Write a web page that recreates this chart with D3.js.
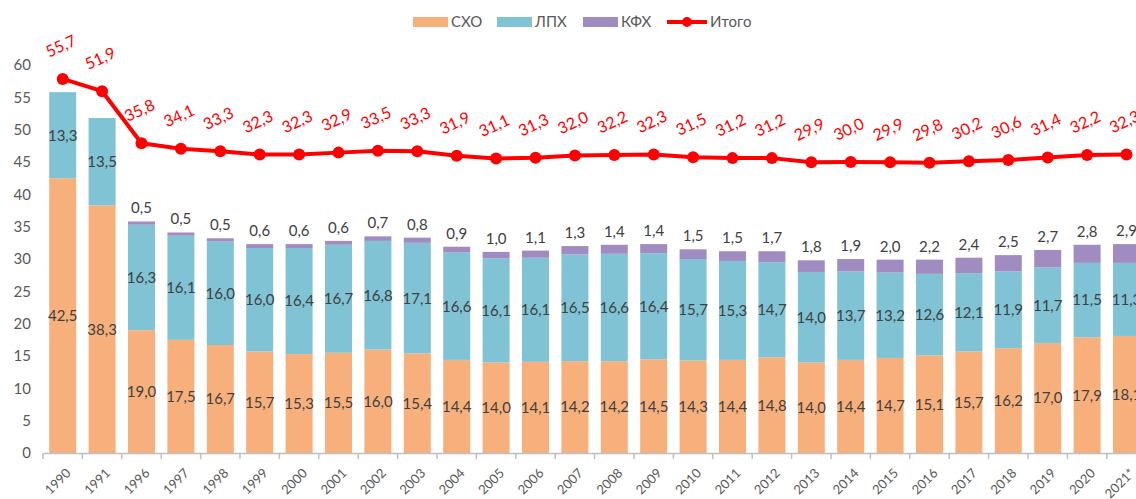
<!DOCTYPE html>
<html>
<head>
<meta charset="utf-8">
<script src="https://cdn.jsdelivr.net/npm/d3@7"></script>
<style>
  body { margin: 0; background: #fff; }
  svg { display: block; font-family: Lato, "Open Sans", sans-serif; }
</style>
</head>
<body>
<div id="chart"></div>
<script>
const years = ['1990', '1991', '1996', '1997', '1998', '1999', '2000', '2001', '2002', '2003', '2004',
  '2005', '2006', '2007', '2008', '2009', '2010', '2011', '2012', '2013', '2014', '2015', '2016',
  '2017', '2018', '2019', '2020', '2021*'];

const skho = [42.5, 38.3, 19.0, 17.5, 16.7, 15.7, 15.3, 15.5, 16.0, 15.4, 14.4, 14.0, 14.1, 14.2,
  14.2, 14.5, 14.3, 14.4, 14.8, 14.0, 14.4, 14.7, 15.1, 15.7, 16.2, 17.0, 17.9, 18.1];
const lph = [13.3, 13.5, 16.3, 16.1, 16.0, 16.0, 16.4, 16.7, 16.8, 17.1, 16.6, 16.1, 16.1, 16.5,
  16.6, 16.4, 15.7, 15.3, 14.7, 14.0, 13.7, 13.2, 12.6, 12.1, 11.9, 11.7, 11.5, 11.3];
const kfh = [null, null, 0.5, 0.5, 0.5, 0.6, 0.6, 0.6, 0.7, 0.8, 0.9, 1.0, 1.1, 1.3,
  1.4, 1.4, 1.5, 1.5, 1.7, 1.8, 1.9, 2.0, 2.2, 2.4, 2.5, 2.7, 2.8, 2.9];
const itogo = [55.7, 51.9, 35.8, 34.1, 33.3, 32.3, 32.3, 32.9, 33.5, 33.3, 31.9, 31.1, 31.3, 32.0,
  32.2, 32.3, 31.5, 31.2, 31.2, 29.9, 30.0, 29.9, 29.8, 30.2, 30.6, 31.4, 32.2, 32.3];

const yTicks = [0, 5, 10, 15, 20, 25, 30, 35, 40, 45, 50, 55, 60];

const seriesNames = ['СХО', 'ЛПХ', 'КФХ'];
const seriesColors = ['#f7b07b', '#7fc3d5', '#a08cc0'];
const lineName = 'Итого';
const lineColor = '#ff0000';

const W = 1136, H = 499;
const plotLeft = 43, plotBottom = 453, plotTop = 65;

const fmt = v => v.toFixed(1).replace('.', ',');

const table = years.map((yr, i) => ({ year: yr, 'СХО': skho[i], 'ЛПХ': lph[i], 'КФХ': kfh[i] || 0, total: itogo[i], kfhRaw: kfh[i] }));

const svg = d3.select('#chart').append('svg')
  .attr('width', W)
  .attr('height', H);

const x = d3.scaleBand()
  .domain(years)
  .range([plotLeft, plotLeft + years.length * 39.4])
  .paddingInner(0.315)
  .paddingOuter(0.1575);

const y = d3.scaleLinear().domain([0, 60]).range([plotBottom, plotTop]);
// hidden secondary axis for the total line
const y2 = d3.scaleLinear().domain([-60, 60]).range([plotBottom, plotTop]);

// y axis (labels only)
const yAxis = svg.append('g')
  .attr('transform', `translate(${plotLeft - 12},0)`)
  .call(d3.axisLeft(y).tickValues(yTicks).tickSize(0).tickPadding(0));
yAxis.select('.domain').remove();
yAxis.selectAll('text')
  .attr('fill', '#595959')
  .style('font-size', '15px')
  .style('font-family', 'Lato, sans-serif');

// stacked bars
const stack = d3.stack().keys(seriesNames);
const layers = stack(table);

svg.append('g').selectAll('g')
  .data(layers)
  .join('g')
  .attr('fill', (d, i) => seriesColors[i])
  .selectAll('rect')
  .data(d => d)
  .join('rect')
  .attr('x', d => x(d.data.year))
  .attr('width', x.bandwidth())
  .attr('y', d => y(d[1]))
  .attr('height', d => y(d[0]) - y(d[1]));

// x axis
const xAxis = svg.append('g')
  .attr('transform', `translate(0,${plotBottom})`)
  .call(d3.axisBottom(x).tickSize(0).tickFormat(''));
xAxis.select('.domain').attr('stroke', '#bfbfbf').attr('stroke-width', 1.5);

const bounds = d3.range(years.length + 1).map(i => plotLeft + i * x.step());
xAxis.selectAll('line.sep')
  .data(bounds)
  .join('line')
  .attr('class', 'sep')
  .attr('x1', d => d).attr('x2', d => d)
  .attr('y1', 0).attr('y2', 6)
  .attr('stroke', '#bfbfbf')
  .attr('stroke-width', 1.5);

svg.append('g').selectAll('text')
  .data(years)
  .join('text')
  .attr('transform', d => `translate(${x(d) + x.bandwidth() / 2 + 9},${plotBottom + 21}) rotate(-45)`)
  .attr('text-anchor', 'end')
  .attr('fill', '#595959')
  .style('font-size', '13px')
  .text(d => d);

// bar value labels
const labels = svg.append('g')
  .attr('fill', '#404040')
  .style('font-size', '15px')
  .attr('text-anchor', 'middle');

layers.slice(0, 2).forEach(layer => {
  labels.append('g').selectAll('text')
    .data(layer)
    .join('text')
    .attr('x', d => x(d.data.year) + x.bandwidth() / 2)
    .attr('y', d => y((d[0] + d[1]) / 2))
    .attr('dy', '0.36em')
    .text(d => fmt(d[1] - d[0]));
});

labels.append('g').selectAll('text')
  .data(layers[2].filter(d => d.data.kfhRaw != null))
  .join('text')
  .attr('x', d => x(d.data.year) + x.bandwidth() / 2)
  .attr('y', d => y(d[1]) - 8)
  .text(d => fmt(d.data.kfhRaw));

// total line
const line = d3.line()
  .x(d => x(d.year) + x.bandwidth() / 2)
  .y(d => y2(d.total));

svg.append('path')
  .datum(table)
  .attr('fill', 'none')
  .attr('stroke', lineColor)
  .attr('stroke-width', 4)
  .attr('stroke-linejoin', 'round')
  .attr('d', line);

svg.append('g').selectAll('circle')
  .data(table)
  .join('circle')
  .attr('cx', d => x(d.year) + x.bandwidth() / 2)
  .attr('cy', d => y2(d.total))
  .attr('r', 6)
  .attr('fill', lineColor);

svg.append('g').selectAll('text')
  .data(table)
  .join('text')
  .attr('transform', d => `translate(${x(d.year) + x.bandwidth() / 2 - 2},${y2(d.total) - 33}) rotate(-25)`)
  .attr('text-anchor', 'middle')
  .attr('dy', '0.36em')
  .attr('fill', lineColor)
  .style('font-size', '16px')
  .text(d => fmt(d.total));

// legend
const legend = svg.append('g').attr('transform', 'translate(0,22)');
const legendX = [413, 497, 583];
seriesNames.forEach((name, i) => {
  legend.append('rect')
    .attr('x', legendX[i]).attr('y', -5)
    .attr('width', 35).attr('height', 10)
    .attr('fill', seriesColors[i]);
  legend.append('text')
    .attr('x', legendX[i] + 38).attr('y', 0)
    .attr('dy', '0.36em')
    .attr('fill', '#595959')
    .style('font-size', '15px')
    .text(name);
});
legend.append('line')
  .attr('x1', 667).attr('x2', 707)
  .attr('y1', 0).attr('y2', 0)
  .attr('stroke', lineColor).attr('stroke-width', 4);
legend.append('circle')
  .attr('cx', 687).attr('cy', 0).attr('r', 5)
  .attr('fill', lineColor);
legend.append('text')
  .attr('x', 710).attr('y', 0)
  .attr('dy', '0.36em')
  .attr('fill', '#595959')
  .style('font-size', '15px')
  .text(lineName);
</script>
</body>
</html>
